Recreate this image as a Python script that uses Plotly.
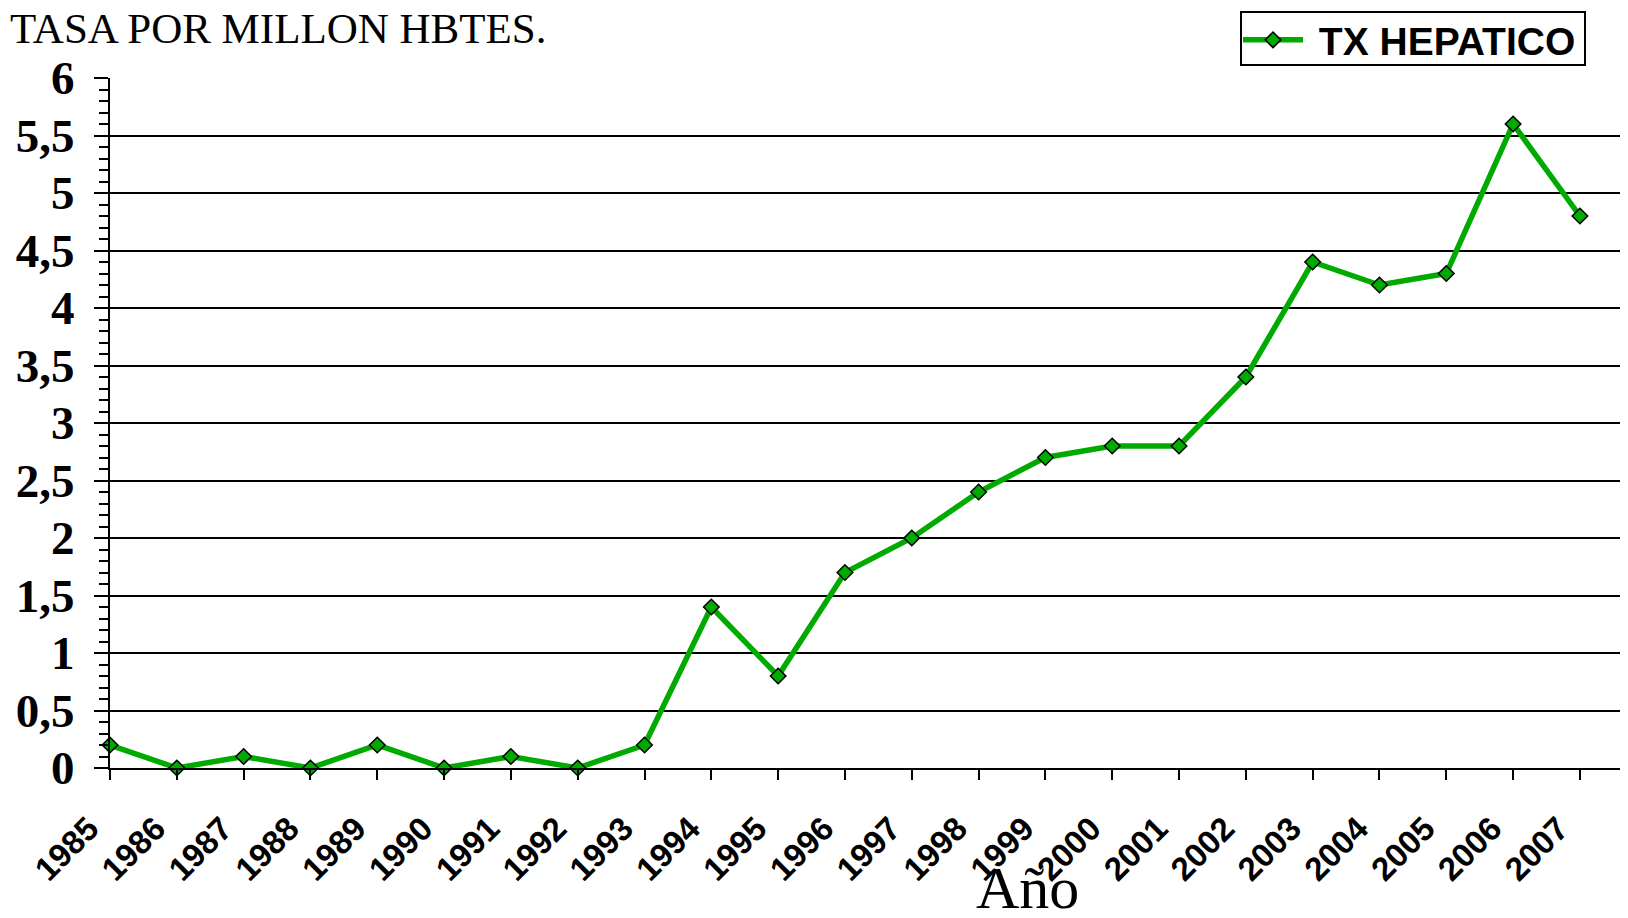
import plotly.graph_objects as go

years = list(range(1985, 2008))
tasa = [0.2, 0.0, 0.1, 0.0, 0.2, 0.0, 0.1, 0.0, 0.2, 1.4, 0.8, 1.7,
        2.0, 2.4, 2.7, 2.8, 2.8, 3.4, 4.4, 4.2, 4.3, 5.6, 4.8]
y_ticks = [0, 0.5, 1, 1.5, 2, 2.5, 3, 3.5, 4, 4.5, 5, 5.5, 6]
y_labels = ["0", "0,5", "1", "1,5", "2", "2,5", "3", "3,5", "4", "4,5", "5", "5,5", "6"]

# page body adds an 8px offset, so the figure is kept 16px smaller than the window
W, H = 1612, 902
L, R, T, B = 102, 0, 70, 142
pw, ph = W - L - R, H - T - B


def px(x):
    return (x - L) / pw


def py(y):
    return (H - B - y) / ph


fig = go.Figure()
fig.add_trace(go.Scatter(
    x=years, y=tasa, mode="lines+markers", name="\u00a0TX HEPATICO",
    line=dict(color="#00AA00", width=5.5),
    marker=dict(symbol="diamond", size=12, color="#00AA00",
                line=dict(color="black", width=1.5)),
    cliponaxis=False,
))

fig.update_layout(
    width=W, height=H,
    margin=dict(l=L, r=R, t=T, b=B, autoexpand=False),
    paper_bgcolor="white", plot_bgcolor="white",
    showlegend=True,
    legend=dict(x=px(1230), y=py(32), xanchor="left", yanchor="middle",
                borderwidth=0, bgcolor="rgba(0,0,0,0)",
                font=dict(family="Liberation Sans", size=39, color="black", weight="bold"),
                itemwidth=60),
    shapes=[
        dict(type="rect", xref="paper", yref="paper",
             x0=px(1233), x1=px(1577), y0=py(57), y1=py(4),
             line=dict(color="black", width=2), fillcolor="rgba(0,0,0,0)", layer="above"),
    ],
    annotations=[
        dict(text="TASA POR MILLON HBTES.", xref="paper", yref="paper",
             x=px(0), y=py(-5), xanchor="left", yanchor="top",
             showarrow=False, font=dict(family="Liberation Serif", size=43, color="black")),
        dict(text="Año", xref="paper", yref="paper",
             x=px(1020), y=py(915), xanchor="center", yanchor="bottom",
             showarrow=False, font=dict(family="Liberation Serif", size=60, color="black")),
    ],
)

fig.update_xaxes(
    range=[1985, 2007.6], tickmode="array", tickvals=years,
    ticktext=[str(y) for y in years], tickangle=-45,
    tickfont=dict(family="Liberation Sans", size=33, color="black", weight="bold"),
    ticks="outside", ticklen=10, tickwidth=2, tickcolor="black",
    ticklabelstandoff=16, ticklabelshift=-21,
    showline=True, linecolor="black", linewidth=2,
    showgrid=False, zeroline=False,
)
fig.update_yaxes(
    range=[0, 6], tickmode="array", tickvals=y_ticks, ticktext=y_labels,
    tickfont=dict(family="Liberation Serif", size=47, color="black", weight="bold"),
    ticks="outside", ticklen=14, tickwidth=2, tickcolor="black",
    ticklabelstandoff=10,
    minor=dict(dtick=0.1, ticks="outside", ticklen=9, tickwidth=2,
               tickcolor="black", showgrid=False),
    showline=True, linecolor="black", linewidth=2,
    showgrid=True, gridcolor="black", gridwidth=2, zeroline=False,
)

fig.write_html("out.html")
